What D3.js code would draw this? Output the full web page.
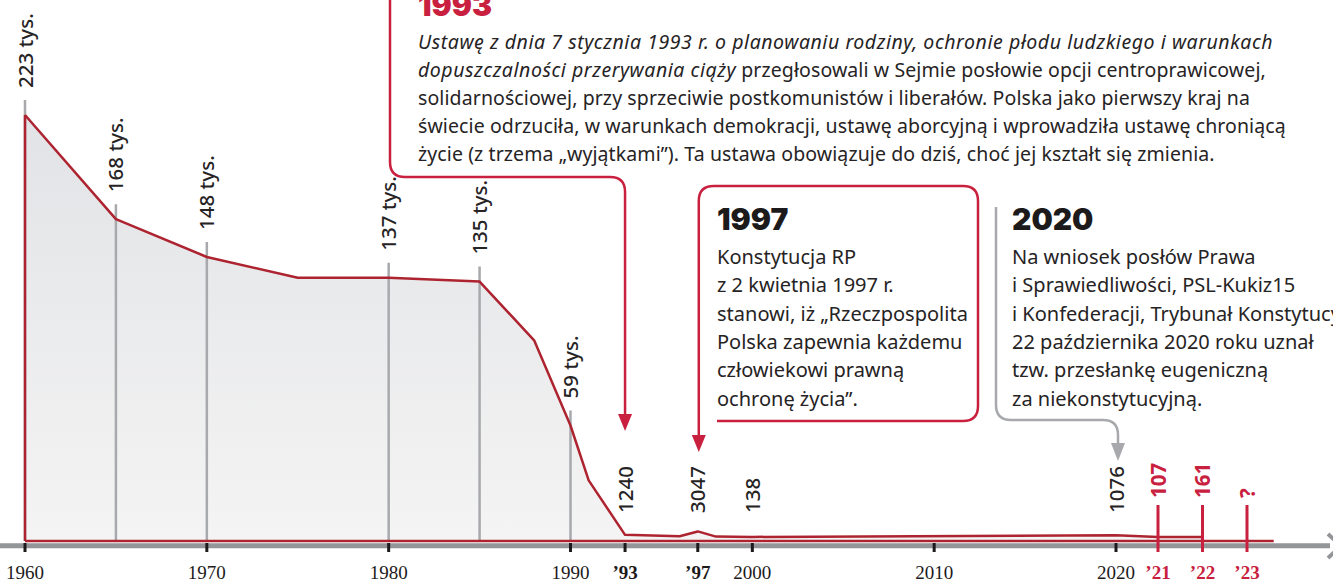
<!DOCTYPE html>
<html>
<head>
<meta charset="utf-8">
<script src="https://cdn.jsdelivr.net/npm/d3@7"></script>
<style>
  body { margin: 0; background: #fff; }
  svg { display: block; font-family: "Noto Sans", sans-serif; }
</style>
</head>
<body>
<svg id="chart" width="1333" height="582"></svg>
<script>
// Abortions in Poland per year
const years  = [1960, 1965, 1970, 1975, 1980, 1985, 1988, 1990, 1991, 1993, 1996, 1997, 1998, 2000, 2020, 2021, 2022];
const values = [223000, 168000, 148000, 137000, 137000, 135000, 104000, 59000, 30000, 1240, 505, 3047, 310, 138, 1076, 107, 161];

// labelled points
const bigLabelYears = [1960, 1965, 1970, 1980, 1985, 1990];
const bigLabels = ['223 tys.', '168 tys.', '148 tys.', '137 tys.', '135 tys.', '59 tys.'];
const smallLabelYears = [1993, 1997, 2000, 2020];
const smallLabels = ['1240', '3047', '138', '1076'];
const recentYears = [2021, 2022, 2023];
const recentLabels = ['107', '161', '?'];

// axis
const tickYears = [1960, 1970, 1980, 1990, 1993, 1997, 2000, 2010, 2020];
const tickLabels = ['1960', '1970', '1980', '1990', '’93', '’97', '2000', '2010', '2020'];
const boldTicks = ['’93', '’97'];
const recentTickLabels = ['’21', '’22', '’23'];
const axisEndYear = 2023.6;

const RED = '#c8203e';
const LINE_RED = '#ad2430';
const GREY = '#a7a9ac';
const TEXT = '#262324';
const HEAVY = 'Inter, Roboto, sans-serif';

const svg = d3.select('#chart');
const data = years.map((yr, i) => ({ year: yr, value: values[i] }));
const valueOf = yr => data.find(d => d.year === yr).value;

// the last years are drawn wider apart than the rest
const x = d3.scaleLinear()
  .domain([1960, 2020, 2021, 2023])
  .range([25, 1116, 1158, 1247]);
// small values get a few pixels so the line stays off the baseline
const y = d3.scaleLinear()
  .domain([0, 100, 223000])
  .range([541, 537, 115]);

const defs = svg.append('defs');
const grad = defs.append('linearGradient')
  .attr('id', 'areaFill')
  .attr('x1', 0).attr('y1', 0).attr('x2', 0).attr('y2', 1);
grad.append('stop').attr('offset', 0).attr('stop-color', '#e2e3e6');
grad.append('stop').attr('offset', 1).attr('stop-color', '#f4f4f4');

// ---- annotations ----
const ann = svg.append('g');

// 1993 bracket
const x93 = x(1993);
ann.append('path')
  .attr('d', `M390,-10 V162 Q390,177 405,177 H${x93 - 15} Q${x93},177 ${x93},192 V418`)
  .attr('fill', 'none').attr('stroke', RED).attr('stroke-width', 2.5);
ann.append('path')
  .attr('d', `M${x93 - 7},414 H${x93 + 7} L${x93},431 Z`)
  .attr('fill', RED);

ann.append('text')
  .attr('x', 418).attr('y', 16)
  .attr('fill', RED)
  .style('font-family', HEAVY)
  .style('font-weight', 900).style('font-size', '30px')
  .text('1993');

const lines93 = [
  [['Ustawę z dnia 7 stycznia 1993 r. o planowaniu rodziny, ochronie płodu ludzkiego i warunkach', true]],
  [['dopuszczalności przerywania ciąży', true], [' przegłosowali w Sejmie posłowie opcji centroprawicowej,', false]],
  [['solidarnościowej, przy sprzeciwie postkomunistów i liberałów. Polska jako pierwszy kraj na', false]],
  [['świecie odrzuciła, w warunkach demokracji, ustawę aborcyjną i wprowadziła ustawę chroniącą', false]],
  [['życie (z trzema „wyjątkami”). Ta ustawa obowiązuje do dziś, choć jej kształt się zmienia.', false]]
];
lines93.forEach((parts, i) => {
  const t = ann.append('text')
    .attr('x', 418).attr('y', 49 + i * 28)
    .attr('fill', TEXT).style('font-size', '19.5px');
  parts.forEach(([s, it]) => {
    t.append('tspan')
      .style('font-style', it ? 'italic' : 'normal')
      .style('letter-spacing', it ? '0.55px' : '0.1px')
      .text(s);
  });
});

// 1997 box
const x97 = x(1997) + 1;
ann.append('path')
  .attr('d', `M${x97},438 V201 Q${x97},186 ${x97 + 15},186 H963 Q978,186 978,201 V406 Q978,421 963,421 H717`)
  .attr('fill', 'none').attr('stroke', RED).attr('stroke-width', 2.5);
ann.append('path')
  .attr('d', `M${x97 - 7},435 H${x97 + 7} L${x97},452 Z`)
  .attr('fill', RED);

// 2020 bracket
const x20 = x(2020) + 2;
ann.append('path')
  .attr('d', `M996,207 V405 Q996,420 1011,420 H${x20 - 15} Q${x20},420 ${x20},435 V446`)
  .attr('fill', 'none').attr('stroke', GREY).attr('stroke-width', 2.5);
ann.append('path')
  .attr('d', `M${x20 - 7},443 H${x20 + 7} L${x20},461 Z`)
  .attr('fill', GREY);

const boxes = [
  { left: 717, title: '1997', lines: ['Konstytucja RP', 'z 2 kwietnia 1997 r.', 'stanowi, iż „Rzeczpospolita', 'Polska zapewnia każdemu', 'człowiekowi prawną', 'ochronę życia”.'] },
  { left: 1012, title: '2020', lines: ['Na wniosek posłów Prawa', 'i Sprawiedliwości, PSL-Kukiz15', 'i Konfederacji, Trybunał Konstytucyjny', '22 października 2020 roku uznał', 'tzw. przesłankę eugeniczną', 'za niekonstytucyjną.'] }
];
boxes.forEach(b => {
  ann.append('text')
    .attr('x', b.left).attr('y', 230)
    .attr('fill', '#1d1a1b')
    .style('font-family', HEAVY)
    .style('font-weight', 900).style('font-size', '30px')
    .text(b.title);
  b.lines.forEach((s, i) => {
    ann.append('text')
      .attr('x', b.left).attr('y', 264 + i * 28.3)
      .attr('fill', TEXT).style('font-size', '20px')
      .text(s);
  });
});

// ---- chart ----
const area = d3.area()
  .x(d => x(d.year))
  .y0(y(0))
  .y1(d => y(d.value));
svg.append('path')
  .datum(data)
  .attr('d', area)
  .attr('fill', 'url(#areaFill)');

// grid lines under the big labels
bigLabelYears.forEach(yr => {
  svg.append('line')
    .attr('x1', x(yr)).attr('x2', x(yr))
    .attr('y1', y(valueOf(yr)) - 15).attr('y2', y(0))
    .attr('stroke', GREY).attr('stroke-width', 2.5);
});

const line = d3.line()
  .x(d => x(d.year))
  .y(d => y(d.value));
svg.append('path')
  .datum(data)
  .attr('d', line)
  .attr('fill', 'none')
  .attr('stroke', LINE_RED).attr('stroke-width', 2.5)
  .attr('stroke-linejoin', 'round');
svg.append('line')
  .attr('x1', x(years[0])).attr('x2', x(years[0]))
  .attr('y1', y(values[0])).attr('y2', y(0))
  .attr('stroke', LINE_RED).attr('stroke-width', 2.5);

// axis band
svg.append('line')
  .attr('x1', 0).attr('x2', 1330)
  .attr('y1', 545.8).attr('y2', 545.8)
  .attr('stroke', '#939598').attr('stroke-width', 5);
svg.append('polyline')
  .attr('points', '1328,534 1341,546 1328,558')
  .attr('fill', 'none').attr('stroke', '#939598').attr('stroke-width', 4);

svg.append('line')
  .attr('x1', x(years[0])).attr('x2', x(axisEndYear))
  .attr('y1', y(0)).attr('y2', y(0))
  .attr('stroke', LINE_RED).attr('stroke-width', 2.5);

tickYears.forEach((yr, i) => {
  svg.append('line')
    .attr('x1', x(yr)).attr('x2', x(yr))
    .attr('y1', 543).attr('y2', 552)
    .attr('stroke', '#1d1a1b').attr('stroke-width', 3);
  svg.append('text')
    .attr('x', x(yr)).attr('y', 579)
    .attr('text-anchor', 'middle')
    .attr('fill', '#1d1a1b')
    .style('font-family', '"Liberation Serif", serif')
    .style('font-size', '19px')
    .style('font-weight', boldTicks.includes(tickLabels[i]) ? 'bold' : 'normal')
    .text(tickLabels[i]);
});

recentYears.forEach((yr, i) => {
  svg.append('line')
    .attr('x1', x(yr)).attr('x2', x(yr))
    .attr('y1', 505).attr('y2', 552)
    .attr('stroke', RED).attr('stroke-width', 3);
  svg.append('text')
    .attr('x', x(yr)).attr('y', 579)
    .attr('text-anchor', 'middle')
    .attr('fill', RED)
    .style('font-family', '"Liberation Serif", serif')
    .style('font-size', '19px').style('font-weight', 'bold')
    .text(recentTickLabels[i]);
  svg.append('text')
    .attr('transform', `translate(${x(yr) + 7.5},498) rotate(-90)`)
    .attr('fill', RED)
    .style('font-size', '20.5px').style('font-weight', 'bold')
    .text(recentLabels[i]);
});

// value labels
bigLabelYears.forEach((yr, i) => {
  svg.append('text')
    .attr('transform', `translate(${x(yr) + 7.5},${y(valueOf(yr)) - 27}) rotate(-90)`)
    .attr('fill', TEXT)
    .style('font-size', '20.5px').style('font-weight', 500)
    .text(bigLabels[i]);
});
smallLabelYears.forEach((yr, i) => {
  svg.append('text')
    .attr('transform', `translate(${x(yr) + 7.5},${y(0) - 28}) rotate(-90)`)
    .attr('fill', TEXT)
    .style('font-size', '20.5px').style('font-weight', 500)
    .text(smallLabels[i]);
});
</script>
</body>
</html>
